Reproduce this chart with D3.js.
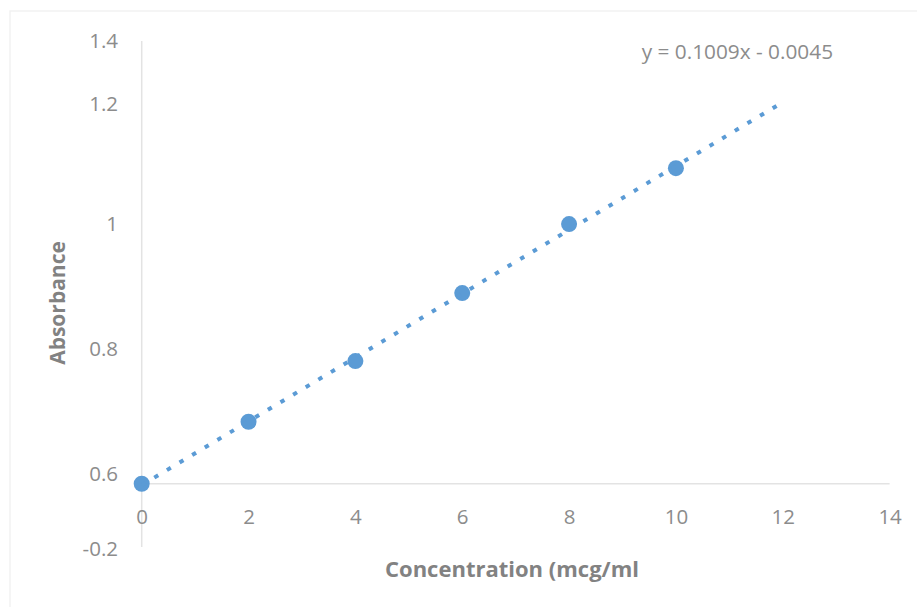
<!DOCTYPE html>
<html>
<head>
<meta charset="utf-8">
<script src="https://cdn.jsdelivr.net/npm/d3@7"></script>
<style>
  html, body { margin: 0; padding: 0; background: #ffffff; }
  svg { display: block; }
  text { font-family: "Open Sans", "Liberation Sans", sans-serif; }
</style>
</head>
<body>
<svg id="chart" width="917" height="607"></svg>
<script>
// Calibration standard: concentration (mcg/ml) vs absorbance
const concentration = [0, 2, 4, 6, 8, 10];
const absorbance = [0.000, 0.196, 0.388, 0.603, 0.821, 0.998];

// Linear fit shown on the chart
const slope = 0.1009;
const intercept = -0.0045;
const trendRange = [0, 12];

// Axis ticks
const xTickValues = [0, 2, 4, 6, 8, 10, 12, 14];
const yTickValues = [1.4, 1.2, 0.82, 0.425, 0.03, -0.205];
const yTickLabels = ["1.4", "1.2", "1", "0.8", "0.6", "-0.2"];

const xDomain = [0, 14];
const yDomain = [-0.2, 1.4];

const svg = d3.select("#chart");
const blue = "#5b9bd5";
const textGray = "#8c8c8c";
const titleGray = "#828282";
const lineGray = "#e3e3e3";

const x = d3.scaleLinear().domain(xDomain).range([141.7, 889.6]);
const y = d3.scaleLinear().domain(yDomain).range([547, 41]);

// chart area frame
svg.append("rect")
  .attr("x", 10).attr("y", 11)
  .attr("width", 930).attr("height", 620)
  .attr("fill", "none")
  .attr("stroke", "#f2f2f2")
  .attr("stroke-width", 1.5);

// horizontal axis line at y = 0
svg.append("line")
  .attr("x1", x(xDomain[0])).attr("x2", x(xDomain[1]))
  .attr("y1", y(0)).attr("y2", y(0))
  .attr("stroke", lineGray).attr("stroke-width", 1.5);

// vertical axis line at x = 0
svg.append("line")
  .attr("x1", x(0)).attr("x2", x(0))
  .attr("y1", y(yDomain[0])).attr("y2", y(yDomain[1]))
  .attr("stroke", lineGray).attr("stroke-width", 1.5);

// x tick labels
const xAxis = d3.axisBottom(x)
  .tickValues(xTickValues)
  .tickSize(0)
  .tickPadding(0)
  .tickFormat(d3.format("d"));
const gx = svg.append("g")
  .attr("transform", `translate(0,${517})`)
  .call(xAxis);
gx.select(".domain").remove();
gx.selectAll("text")
  .attr("dy", "0.35em")
  .attr("y", 0)
  .attr("fill", textGray)
  .style("font-size", "20.5px");

// y tick labels
const yAxis = d3.axisLeft(y)
  .tickValues(yTickValues)
  .tickSize(0)
  .tickPadding(0)
  .tickFormat((d, i) => yTickLabels[i]);
const gy = svg.append("g")
  .attr("transform", `translate(${118},0)`)
  .call(yAxis);
gy.select(".domain").remove();
gy.selectAll("text")
  .attr("fill", textGray)
  .style("font-size", "20.5px");

// data markers
svg.append("g")
  .selectAll("circle")
  .data(concentration.map((c, i) => ({ c, a: absorbance[i] })))
  .join("circle")
  .attr("cx", d => x(d.c))
  .attr("cy", d => y(d.a))
  .attr("r", 8)
  .attr("fill", blue);

// dotted linear trendline
const trend = trendRange.map(v => ({ c: v, a: slope * v + intercept }));
svg.append("path")
  .datum(trend)
  .attr("d", d3.line().x(d => x(d.c)).y(d => y(d.a)))
  .attr("fill", "none")
  .attr("stroke", blue)
  .attr("stroke-width", 4)
  .attr("stroke-dasharray", "4.5 10.2");

// trendline equation
svg.append("text")
  .attr("x", 641.7).attr("y", 52)
  .attr("dy", "0.35em")
  .attr("fill", textGray)
  .style("font-size", "20.8px")
  .text(`y = ${slope}x - ${Math.abs(intercept)}`);

// axis titles
svg.append("text")
  .attr("x", 512).attr("y", 569)
  .attr("dy", "0.35em")
  .attr("text-anchor", "middle")
  .attr("fill", titleGray)
  .style("font-size", "22px")
  .style("font-weight", "bold")
  .text("Concentration (mcg/ml");

svg.append("text")
  .attr("transform", `translate(58,303) rotate(-90)`)
  .attr("dy", "0.35em")
  .attr("text-anchor", "middle")
  .attr("fill", titleGray)
  .style("font-size", "21px")
  .style("font-weight", "bold")
  .text("Absorbance");
</script>
</body>
</html>
